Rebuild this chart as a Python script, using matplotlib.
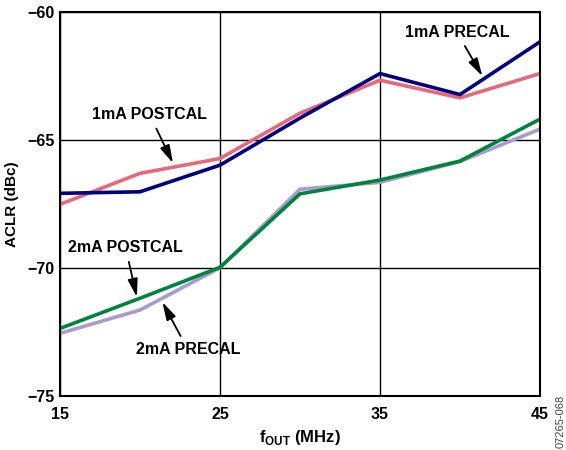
import matplotlib
matplotlib.use("Agg")
import matplotlib.pyplot as plt

plt.rcParams['font.family'] = ['Liberation Sans', 'DejaVu Sans']
plt.rcParams['font.weight'] = 'bold'
plt.rcParams['mathtext.fontset'] = 'custom'
plt.rcParams['mathtext.rm'] = 'Liberation Sans:bold'
plt.rcParams['mathtext.bf'] = 'Liberation Sans:bold'

# datos
fout = [15, 20, 25, 30, 35, 40, 45]
pre_1ma = [-67.08, -67.02, -65.98, -64.14, -62.40, -63.22, -61.16]
post_1ma = [-67.51, -66.30, -65.72, -63.95, -62.66, -63.35, -62.40]
post_2ma = [-72.36, -71.18, -69.97, -67.10, -66.56, -65.82, -64.18]
pre_2ma = [-72.55, -71.64, -69.99, -66.92, -66.65, -65.84, -64.57]

fig = plt.figure(figsize=(5.66, 4.5), dpi=100)
ax = fig.add_axes([0.106, 0.12, 0.848, 0.853])

ax.plot(fout, pre_2ma, color='#a99bd0', lw=2.6)
ax.plot(fout, post_2ma, color='#00843d', lw=2.6)
ax.plot(fout, post_1ma, color='#e8687a', lw=2.6)
ax.plot(fout, pre_1ma, color='#000080', lw=2.6)

ax.set_xlim(15, 45)
ax.set_ylim(-75, -60)
ax.set_xticks([15, 25, 35, 45])
ax.set_yticks([-75, -70, -65, -60])
ax.grid(True, color='black', lw=1)
ax.set_axisbelow(True)
for s in ax.spines.values():
    s.set_linewidth(1.5)
ax.tick_params(length=0, labelsize=11.5, pad=4)
ax.tick_params(axis='x', pad=8)

ax.set_ylabel('ACLR (dBc)', fontsize=11, fontweight='bold', labelpad=6)
ax.set_xlabel(r'f$_{\mathrm{OUT}}$ (MHz)', fontsize=12, fontweight='bold', labelpad=4)

flecha = dict(arrowstyle='-|>,head_length=0.9,head_width=0.25', color='black',
              lw=1.3, mutation_scale=12, shrinkA=3, shrinkB=0)
ax.annotate('1mA POSTCAL', xy=(22.06, -65.9), xytext=(20.6, -64.0),
            ha='center', va='center', fontsize=11.5, fontweight='bold',
            arrowprops=flecha)
ax.annotate('1mA PRECAL', xy=(41.4, -62.5), xytext=(39.8, -60.78),
            ha='center', va='center', fontsize=11.5, fontweight='bold',
            arrowprops=flecha)
ax.annotate('2mA POSTCAL', xy=(19.8, -71.13), xytext=(19.1, -69.2),
            ha='center', va='center', fontsize=11.5, fontweight='bold',
            arrowprops=flecha)
ax.annotate('2mA PRECAL', xy=(21.4, -71.33), xytext=(23.0, -73.2),
            ha='center', va='center', fontsize=11.5, fontweight='bold',
            arrowprops=flecha)

fig.text(0.991, 0.005, '07265-068', rotation=90, fontsize=8,
         fontweight='normal', color='#444444', ha='center', va='bottom')

fig.savefig('out.png', dpi=100)
